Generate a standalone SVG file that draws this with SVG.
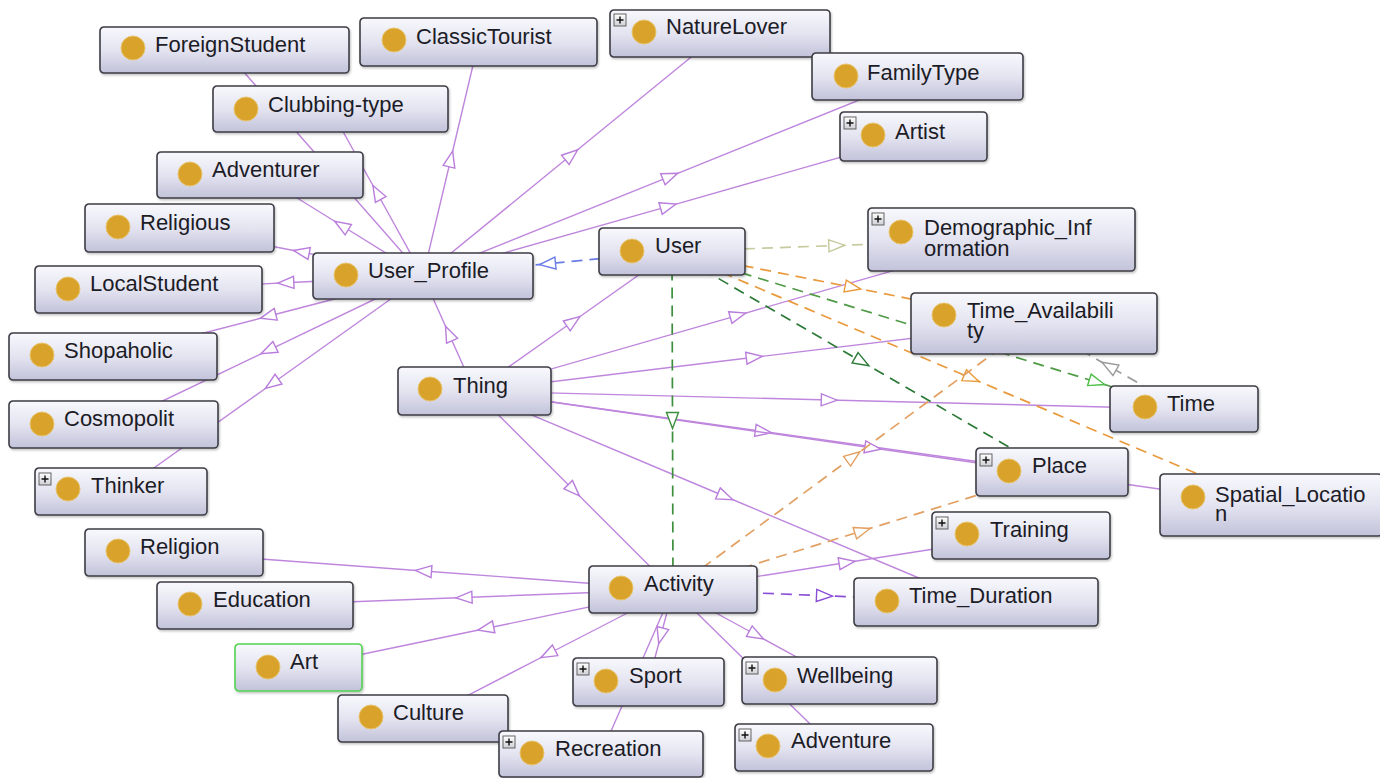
<svg xmlns="http://www.w3.org/2000/svg" xmlns:xlink="http://www.w3.org/1999/xlink" width="1380" height="778" viewBox="0 0 1380 778">
  <defs>
    <linearGradient id="nodeFill" x1="0" y1="0" x2="0" y2="1">
      <stop offset="0" stop-color="#f8f8fd"/>
      <stop offset="0.5" stop-color="#e4e4f1"/>
      <stop offset="1" stop-color="#c2c2da"/>
    </linearGradient>
    <linearGradient id="plusFill" x1="0" y1="0" x2="0" y2="1">
      <stop offset="0" stop-color="#ffffff"/>
      <stop offset="1" stop-color="#cfcfd6"/>
    </linearGradient>
    <filter id="shadow" x="-5%" y="-10%" width="115%" height="130%">
      <feDropShadow dx="1" dy="1.5" stdDeviation="1" flood-color="#000" flood-opacity="0.25"/>
    </filter>
    <g id="plus">
      <rect width="12" height="12" fill="url(#plusFill)" stroke="#555" stroke-width="0.9"/>
      <path d="M6 2.5 V9.5 M2.5 6 H9.5" stroke="#111" stroke-width="1.4"/>
    </g>
    <!-- hollow triangles placed halfway along each arc -->
    <marker id="triP" viewBox="-10 -8 20 16" markerWidth="20" markerHeight="16" markerUnits="userSpaceOnUse" orient="auto">
      <path d="M-8,-6 L8,0 L-8,6 Z" fill="#fff" stroke="#b97ddb" stroke-width="1.4"/>
    </marker>
    <marker id="triBlue" viewBox="-10 -8 20 16" markerWidth="20" markerHeight="16" markerUnits="userSpaceOnUse" orient="auto">
      <path d="M-8,-6 L8,0 L-8,6 Z" fill="#fff" stroke="#6a7de6" stroke-width="1.4"/>
    </marker>
    <marker id="triKhaki" viewBox="-10 -8 20 16" markerWidth="20" markerHeight="16" markerUnits="userSpaceOnUse" orient="auto">
      <path d="M-8,-6 L8,0 L-8,6 Z" fill="#fff" stroke="#c3c79a" stroke-width="1.4"/>
    </marker>
    <marker id="triGreen" viewBox="-10 -8 20 16" markerWidth="20" markerHeight="16" markerUnits="userSpaceOnUse" orient="auto">
      <path d="M-8,-6 L8,0 L-8,6 Z" fill="#fff" stroke="#3d8f3d" stroke-width="1.4"/>
    </marker>
    <marker id="triDkGreen" viewBox="-10 -8 20 16" markerWidth="20" markerHeight="16" markerUnits="userSpaceOnUse" orient="auto">
      <path d="M-8,-6 L8,0 L-8,6 Z" fill="#fff" stroke="#2c7a38" stroke-width="1.4"/>
    </marker>
    <marker id="triLtGreen" viewBox="-10 -8 20 16" markerWidth="20" markerHeight="16" markerUnits="userSpaceOnUse" orient="auto">
      <path d="M-8,-6 L8,0 L-8,6 Z" fill="#fff" stroke="#4cbf45" stroke-width="1.4"/>
    </marker>
    <marker id="triOrange" viewBox="-10 -8 20 16" markerWidth="20" markerHeight="16" markerUnits="userSpaceOnUse" orient="auto">
      <path d="M-8,-6 L8,0 L-8,6 Z" fill="#fff" stroke="#e99a3c" stroke-width="1.4"/>
    </marker>
    <marker id="triTan" viewBox="-10 -8 20 16" markerWidth="20" markerHeight="16" markerUnits="userSpaceOnUse" orient="auto">
      <path d="M-8,-6 L8,0 L-8,6 Z" fill="#fff" stroke="#e2a062" stroke-width="1.4"/>
    </marker>
    <marker id="triGray" viewBox="-10 -8 20 16" markerWidth="20" markerHeight="16" markerUnits="userSpaceOnUse" orient="auto">
      <path d="M-8,-6 L8,0 L-8,6 Z" fill="#fff" stroke="#9a9a9a" stroke-width="1.4"/>
    </marker>
    <marker id="triViolet" viewBox="-10 -8 20 16" markerWidth="20" markerHeight="16" markerUnits="userSpaceOnUse" orient="auto">
      <path d="M-8,-6 L8,0 L-8,6 Z" fill="#fff" stroke="#8a4fd6" stroke-width="1.4"/>
    </marker>
  </defs>
  <style>
    .box { fill: url(#nodeFill); stroke: #3d3d46; stroke-width: 1.6; filter: url(#shadow); }
    .sel { stroke: #52d352; }
    .dot { fill: #d9a22a; stroke: #e8c46e; stroke-width: 1; }
    .lbl { font-family: "Liberation Sans", Arial, Helvetica, sans-serif; font-size: 22px; fill: #1c1c26; }
    .sub { fill: none; stroke: #bf86dd; stroke-width: 1.4; marker-mid: url(#triP); }
    .dash { fill: none; stroke-width: 1.7; stroke-dasharray: 11 7; }
  </style>
  <rect width="1380" height="778" fill="#ffffff"/>

  <!-- connectors: drawn centre to centre, boxes cover the ends -->
  <g id="connectors">
    <!-- User_Profile subclasses -->
    <path class="sub" d="M423 276 L323.8 163 L224.5 50"/>
    <path class="sub" d="M423 276 L450.8 159 L478.5 42"/>
    <path class="sub" d="M423 276 L571.5 154.8 L720 33.5"/>
    <path class="sub" d="M423 276 L670.3 176.3 L917.5 76.5"/>
    <path class="sub" d="M423 276 L668.3 206.3 L913.5 136.5"/>
    <path class="sub" d="M423 276 L376.8 192.5 L330.5 109"/>
    <path class="sub" d="M423 276 L341.5 225.5 L260 175"/>
    <path class="sub" d="M423 276 L301.3 252 L179.5 228"/>
    <path class="sub" d="M423 276 L285.8 282.8 L148.5 289.5"/>
    <path class="sub" d="M423 276 L268 316.3 L113 356.5"/>
    <path class="sub" d="M423 276 L268.3 350.3 L113.5 424.5"/>
    <path class="sub" d="M423 276 L272 383.8 L121 491.5"/>
    <!-- Thing subclasses -->
    <path class="sub" d="M474.5 391 L448.8 333.5 L423 276"/>
    <path class="sub" d="M474.5 391 L573.3 321.3 L672 251.5"/>
    <path class="sub" d="M474.5 391 L738 315.3 L1001.5 239.5"/>
    <path class="sub" d="M474.5 391 L754.3 357.3 L1034 323.5"/>
    <path class="sub" d="M474.5 391 L829.3 400 L1184 409"/>
    <path class="sub" d="M474.5 391 L763.3 431.5 L1052 472"/>
    <path class="sub" d="M474.5 391 L872.8 448 L1271 505"/>
    <path class="sub" d="M474.5 391 L573.8 490.3 L673 589.5"/>
    <path class="sub" d="M474.5 391 L725.3 496.5 L976 602"/>
    <!-- Activity subclasses -->
    <path class="sub" d="M673 589.5 L423.5 571 L174 552.5"/>
    <path class="sub" d="M673 589.5 L464 597.5 L255 605.5"/>
    <path class="sub" d="M673 589.5 L485.8 628.5 L298.5 667.5"/>
    <path class="sub" d="M673 589.5 L548 654 L423 718.5"/>
    <path class="sub" d="M673 589.5 L660.8 635.8 L648.5 682"/>
    <path class="sub" d="M673 589.5 L637 671.8 L601 754"/>
    <path class="sub" d="M673 589.5 L756.3 635 L839.5 680.5"/>
    <path class="sub" d="M673 589.5 L753.5 668.5 L834 747.5"/>
    <path class="sub" d="M673 589.5 L847 562.5 L1021 535.5"/>
    <!-- property arcs -->
    <path class="dash" stroke="#6a7de6" marker-mid="url(#triBlue)" d="M672 251.5 L547.5 263.8 L423 276"/>
    <path class="dash" stroke="#c8cba0" marker-mid="url(#triKhaki)" d="M672 251.5 L836.8 245.5 L1001.5 239.5"/>
    <path class="dash" stroke="#3d8f3d" marker-mid="url(#triGreen)" d="M672 251.5 L672.5 420.5 L673 589.5"/>
    <path class="dash" stroke="#2c7a38" marker-mid="url(#triDkGreen)" d="M672 251.5 L862 361.8 L1052 472"/>
    <path class="dash" stroke="#4f9a45" marker-mid="url(#triLtGreen)" d="M672 251.5 L1097 382.2 L1184 409"/>
    <path class="dash" stroke="#e99a3c" marker-mid="url(#triOrange)" d="M672 251.5 L853 287.5 L1034 323.5"/>
    <path class="dash" stroke="#e99a3c" marker-mid="url(#triOrange)" d="M672 251.5 L971.5 378.3 L1271 505"/>
    <path class="dash" stroke="#9a9a9a" marker-mid="url(#triGray)" d="M1184 409 L1109 366.3 L1034 323.5"/>
    <path class="dash" stroke="#e2a062" marker-mid="url(#triTan)" d="M673 589.5 L853.5 456.5 L1034 323.5"/>
    <path class="dash" stroke="#e2a062" marker-mid="url(#triTan)" d="M673 589.5 L862.5 530.8 L1052 472"/>
    <path class="dash" stroke="#8a4fd6" marker-mid="url(#triViolet)" d="M673 589.5 L824.5 595.8 L976 602"/>
  </g>

  <!-- class nodes -->
  <g id="n-ForeignStudent" transform="translate(100,27)">
    <rect class="box" width="249" height="46" rx="4"/>
    <circle class="dot" cx="33" cy="21" r="12"/>
    <text class="lbl" x="55" y="25">ForeignStudent</text>
  </g>
  <g id="n-ClassicTourist" transform="translate(360,18)">
    <rect class="box" width="237" height="48" rx="4"/>
    <circle class="dot" cx="34" cy="22" r="12"/>
    <text class="lbl" x="56" y="26">ClassicTourist</text>
  </g>
  <g id="n-NatureLover" transform="translate(610,10)">
    <rect class="box" width="220" height="47" rx="4"/>
    <use xlink:href="#plus" x="4" y="4"/>
    <circle class="dot" cx="34" cy="22" r="12"/>
    <text class="lbl" x="56" y="24">NatureLover</text>
  </g>
  <g id="n-FamilyType" transform="translate(812,53)">
    <rect class="box" width="211" height="47" rx="4"/>
    <circle class="dot" cx="34" cy="23" r="12"/>
    <text class="lbl" x="55" y="27">FamilyType</text>
  </g>
  <g id="n-Artist" transform="translate(840,112)">
    <rect class="box" width="147" height="49" rx="4"/>
    <use xlink:href="#plus" x="4" y="5"/>
    <circle class="dot" cx="33" cy="23" r="12"/>
    <text class="lbl" x="55" y="27">Artist</text>
  </g>
  <g id="n-Clubbing-type" transform="translate(213,86)">
    <rect class="box" width="235" height="46" rx="4"/>
    <circle class="dot" cx="33" cy="23" r="12"/>
    <text class="lbl" x="55" y="26">Clubbing-type</text>
  </g>
  <g id="n-Adventurer" transform="translate(157,152)">
    <rect class="box" width="206" height="46" rx="4"/>
    <circle class="dot" cx="33" cy="22" r="12"/>
    <text class="lbl" x="55" y="25">Adventurer</text>
  </g>
  <g id="n-Religious" transform="translate(85,204)">
    <rect class="box" width="189" height="48" rx="4"/>
    <circle class="dot" cx="33" cy="23" r="12"/>
    <text class="lbl" x="55" y="26">Religious</text>
  </g>
  <g id="n-User_Profile" transform="translate(313,253)">
    <rect class="box" width="220" height="46" rx="4"/>
    <circle class="dot" cx="33" cy="22" r="12"/>
    <text class="lbl" x="55" y="25">User_Profile</text>
  </g>
  <g id="n-LocalStudent" transform="translate(35,266)">
    <rect class="box" width="227" height="47" rx="4"/>
    <circle class="dot" cx="33" cy="23" r="12"/>
    <text class="lbl" x="55" y="25">LocalStudent</text>
  </g>
  <g id="n-Shopaholic" transform="translate(9,333)">
    <rect class="box" width="208" height="47" rx="4"/>
    <circle class="dot" cx="33" cy="22" r="12"/>
    <text class="lbl" x="55" y="25">Shopaholic</text>
  </g>
  <g id="n-Cosmopolit" transform="translate(9,401)">
    <rect class="box" width="209" height="47" rx="4"/>
    <circle class="dot" cx="33" cy="23" r="12"/>
    <text class="lbl" x="55" y="25">Cosmopolit</text>
  </g>
  <g id="n-Thinker" transform="translate(35,468)">
    <rect class="box" width="172" height="47" rx="4"/>
    <use xlink:href="#plus" x="4" y="5"/>
    <circle class="dot" cx="33" cy="21" r="12"/>
    <text class="lbl" x="56" y="25">Thinker</text>
  </g>
  <g id="n-User" transform="translate(599,228)">
    <rect class="box" width="146" height="47" rx="4"/>
    <circle class="dot" cx="33" cy="23" r="12"/>
    <text class="lbl" x="56" y="25">User</text>
  </g>
  <g id="n-Demographic_Information" transform="translate(868,208)">
    <rect class="box" width="267" height="63" rx="4"/>
    <use xlink:href="#plus" x="4" y="5"/>
    <circle class="dot" cx="33" cy="24" r="12"/>
    <text class="lbl" x="56" y="27">Demographic_Inf<tspan x="56" dy="21">ormation</tspan></text>
  </g>
  <g id="n-Time_Availability" transform="translate(911,293)">
    <rect class="box" width="246" height="61" rx="4"/>
    <circle class="dot" cx="33" cy="22" r="12"/>
    <text class="lbl" x="56" y="25">Time_Availabili<tspan x="56" dy="20">ty</tspan></text>
  </g>
  <g id="n-Time" transform="translate(1110,386)">
    <rect class="box" width="148" height="46" rx="4"/>
    <circle class="dot" cx="35" cy="21" r="12"/>
    <text class="lbl" x="57" y="25">Time</text>
  </g>
  <g id="n-Place" transform="translate(976,448)">
    <rect class="box" width="152" height="48" rx="4"/>
    <use xlink:href="#plus" x="4" y="6"/>
    <circle class="dot" cx="33" cy="23" r="12"/>
    <text class="lbl" x="56" y="25">Place</text>
  </g>
  <g id="n-Spatial_Location" transform="translate(1160,474)">
    <rect class="box" width="222" height="62" rx="4"/>
    <circle class="dot" cx="33" cy="23" r="12"/>
    <text class="lbl" x="55" y="28">Spatial_Locatio<tspan x="55" dy="19">n</tspan></text>
  </g>
  <g id="n-Thing" transform="translate(398,367)">
    <rect class="box" width="153" height="48" rx="4"/>
    <circle class="dot" cx="32" cy="22" r="12"/>
    <text class="lbl" x="55" y="26">Thing</text>
  </g>
  <g id="n-Training" transform="translate(932,512)">
    <rect class="box" width="178" height="47" rx="4"/>
    <use xlink:href="#plus" x="4" y="5"/>
    <circle class="dot" cx="35" cy="22" r="12"/>
    <text class="lbl" x="58" y="25">Training</text>
  </g>
  <g id="n-Activity" transform="translate(589,566)">
    <rect class="box" width="168" height="47" rx="4"/>
    <circle class="dot" cx="32" cy="22" r="12"/>
    <text class="lbl" x="55" y="25">Activity</text>
  </g>
  <g id="n-Time_Duration" transform="translate(854,578)">
    <rect class="box" width="244" height="48" rx="4"/>
    <circle class="dot" cx="33" cy="23" r="12"/>
    <text class="lbl" x="55" y="25">Time_Duration</text>
  </g>
  <g id="n-Religion" transform="translate(85,529)">
    <rect class="box" width="178" height="47" rx="4"/>
    <circle class="dot" cx="33" cy="22" r="12"/>
    <text class="lbl" x="55" y="25">Religion</text>
  </g>
  <g id="n-Education" transform="translate(157,582)">
    <rect class="box" width="196" height="47" rx="4"/>
    <circle class="dot" cx="33" cy="22" r="12"/>
    <text class="lbl" x="56" y="25">Education</text>
  </g>
  <g id="n-Art" transform="translate(235,644)">
    <rect class="box sel" width="127" height="47" rx="4"/>
    <circle class="dot" cx="33" cy="23" r="12"/>
    <text class="lbl" x="55" y="25">Art</text>
  </g>
  <g id="n-Culture" transform="translate(338,695)">
    <rect class="box" width="170" height="47" rx="4"/>
    <circle class="dot" cx="33" cy="22" r="12"/>
    <text class="lbl" x="55" y="25">Culture</text>
  </g>
  <g id="n-Sport" transform="translate(573,658)">
    <rect class="box" width="151" height="48" rx="4"/>
    <use xlink:href="#plus" x="4" y="5"/>
    <circle class="dot" cx="33" cy="23" r="12"/>
    <text class="lbl" x="56" y="25">Sport</text>
  </g>
  <g id="n-Wellbeing" transform="translate(742,657)">
    <rect class="box" width="195" height="47" rx="4"/>
    <use xlink:href="#plus" x="4" y="5"/>
    <circle class="dot" cx="33" cy="23" r="12"/>
    <text class="lbl" x="55" y="26">Wellbeing</text>
  </g>
  <g id="n-Recreation" transform="translate(499,731)">
    <rect class="box" width="204" height="46" rx="4"/>
    <use xlink:href="#plus" x="4" y="5"/>
    <circle class="dot" cx="33" cy="22" r="12"/>
    <text class="lbl" x="56" y="25">Recreation</text>
  </g>
  <g id="n-Adventure" transform="translate(735,724)">
    <rect class="box" width="198" height="47" rx="4"/>
    <use xlink:href="#plus" x="4" y="5"/>
    <circle class="dot" cx="33" cy="22" r="12"/>
    <text class="lbl" x="56" y="24">Adventure</text>
  </g>
</svg>
